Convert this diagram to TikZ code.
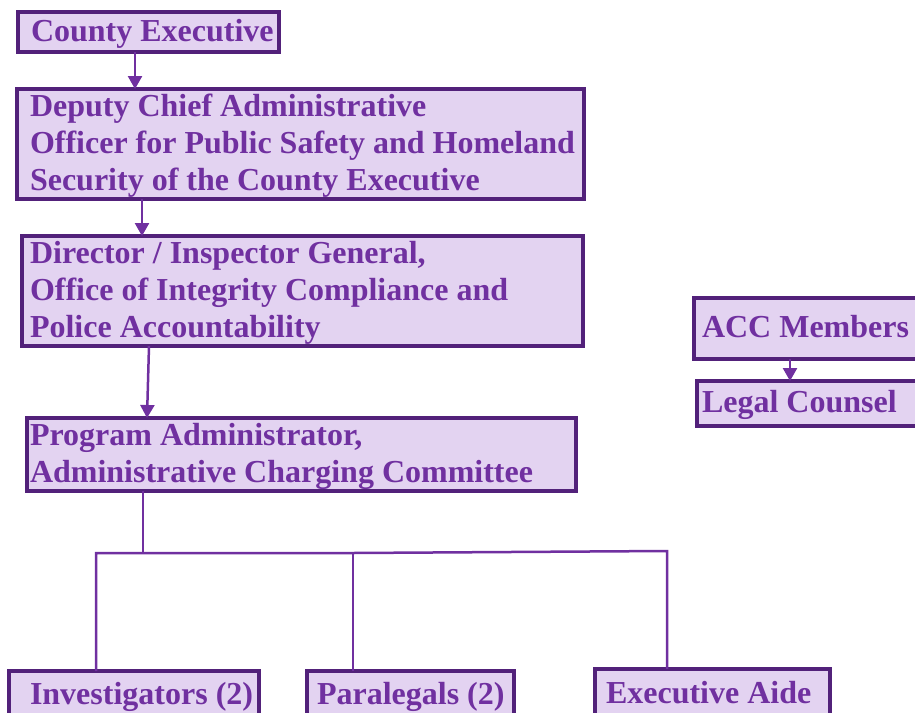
\documentclass[tikz,border=0pt]{standalone}
\usepackage{fontspec}
\setmainfont{Liberation Serif}
\usetikzlibrary{arrows.meta}
\definecolor{txtpurple}{HTML}{7030A0}
\definecolor{edgepurple}{HTML}{52217A}
\definecolor{fillpurple}{HTML}{E3D3F1}
\newcommand\boxtext[2]{\makebox[#1][l]{\raisebox{-2pt}[\height][\depth]{\begin{tabular}{@{}l@{}}#2\end{tabular}}}}
\begin{document}
\begin{tikzpicture}[x=1pt,y=-1pt,
  orgbox/.style={draw=edgepurple, fill=fillpurple, line width=4pt, rectangle, anchor=north west,
    outer sep=0pt, inner ysep=0pt, text=txtpurple, font=\fontsize{32}{36.7}\selectfont\bfseries},
  link/.style={draw=txtpurple, line width=2.5pt},
  arr/.style={link, -{Triangle[length=13pt,width=14pt]}}]
\useasboundingbox (0,0) rectangle (915,712);
\clip (0,0) rectangle (915,712);

\node[orgbox, minimum width=261pt, minimum height=40pt, inner xsep=13pt] (ce) at (18,12)
  {\boxtext{235pt}{County Executive}};
\node[orgbox, minimum width=567pt, minimum height=107pt, inner xsep=13pt] (dep) at (17,89)
  {\boxtext{541pt}{Deputy Chief Administrative\\Officer for Public Safety and Homeland\\Security of the County Executive}};
\node[orgbox, minimum width=561pt, minimum height=108pt, inner xsep=8pt] (dir) at (22,236)
  {\boxtext{545pt}{Director / Inspector General,\\Office of Integrity Compliance and\\Police Accountability}};
\node[orgbox, minimum width=549pt, minimum height=72pt, inner xsep=3pt] (prog) at (27,418)
  {\boxtext{543pt}{Program Administrator,\\Administrative Charging Committee}};
\node[orgbox, minimum width=231pt, minimum height=61pt, inner xsep=8pt] (acc) at (694,298)
  {\boxtext{215pt}{ACC Members}};
\node[orgbox, minimum width=228pt, minimum height=45pt, inner xsep=5pt] (legal) at (697,381)
  {\boxtext{218pt}{Legal Counsel}};
\node[orgbox, minimum width=250pt, minimum height=49pt, inner xsep=21pt] (inv) at (9,671)
  {\boxtext{208pt}{Investigators (2)}};
\node[orgbox, minimum width=207pt, minimum height=49pt, inner xsep=10pt] (para) at (307,671)
  {\boxtext{187pt}{Paralegals (2)}};
\node[orgbox, minimum width=235pt, minimum height=51pt, inner xsep=11pt] (aide) at (595,669)
  {\boxtext{213pt}{Executive Aide}};

\coordinate (c1) at (135,0);
\coordinate (c2) at (142,0);
\coordinate (c3) at (149,0);
\coordinate (c4) at (147,0);
\coordinate (c5) at (790,0);
\draw[arr] (ce.south -| c1) -- (dep.north -| c1);
\draw[arr] (dep.south -| c2) -- (dir.north -| c2);
\draw[arr] (dir.south -| c3) -- (prog.north -| c4);
\draw[arr] (acc.south -| c5) -- (legal.north -| c5);

\coordinate (h0) at (143,553);
\coordinate (h1) at (96,553);
\coordinate (h2) at (353,553);
\coordinate (h3) at (667,551);
\draw[link] (prog.south -| h0) -- (h0);
\draw[link] (inv.north -| h1) -- (h1) -- (h2) -- (h3) -- (aide.north -| h3);
\draw[link] (h2) -- (para.north -| h2);
\end{tikzpicture}
\end{document}
